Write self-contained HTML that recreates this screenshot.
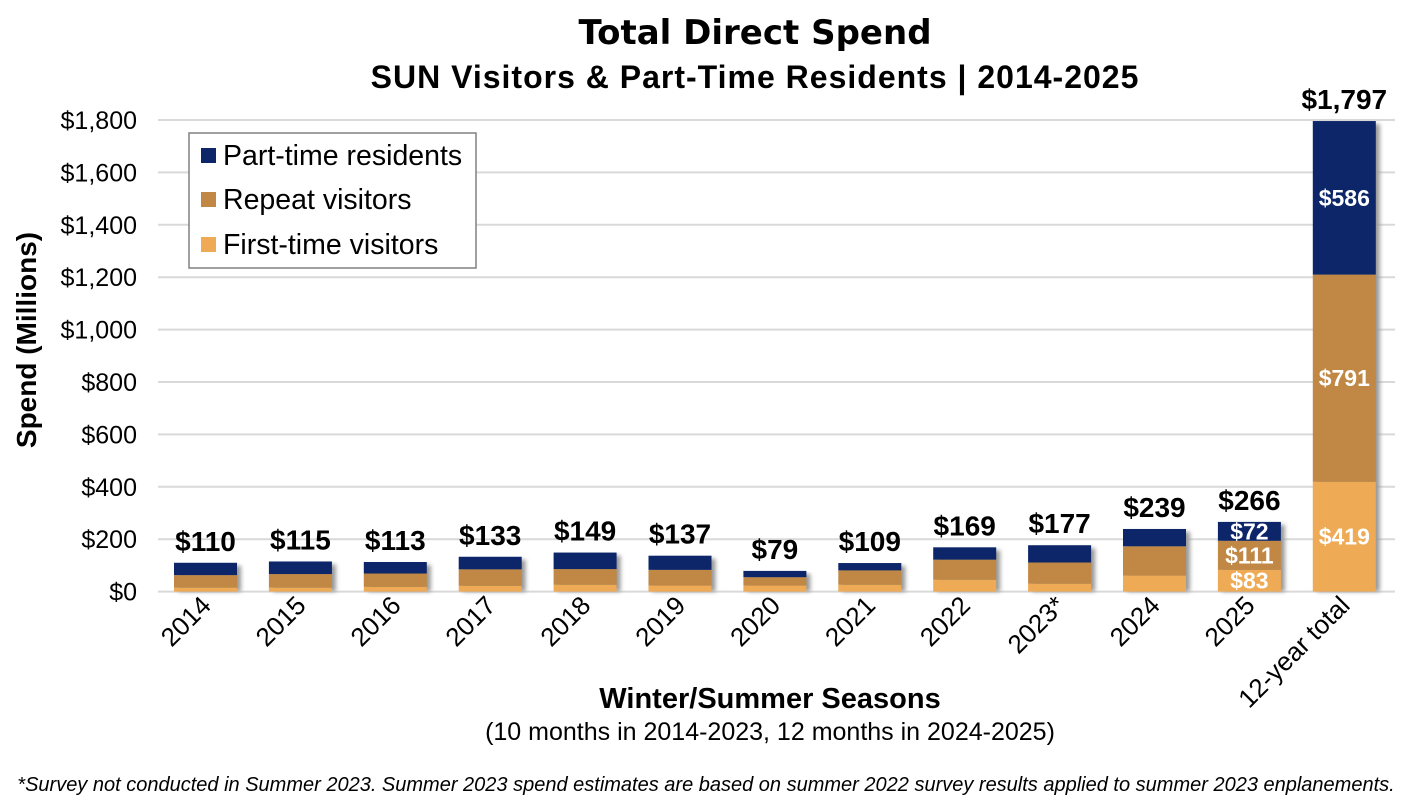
<!DOCTYPE html>
<html><head><meta charset="utf-8"><style>
html,body{margin:0;padding:0;background:#fff;}
svg{display:block;font-family:"Liberation Sans",Arial,sans-serif;}
</style></head><body>
<svg id="c" width="1420" height="805" xmlns="http://www.w3.org/2000/svg">
<defs><filter id="sh" x="-10%" y="-10%" width="130%" height="130%"><feGaussianBlur stdDeviation="2"/></filter></defs>
<text x="755" y="44" text-anchor="middle" font-size="34" style="font-family:'DejaVu Sans','Liberation Sans',sans-serif" font-weight="900">Total Direct Spend</text>
<text x="755" y="88" text-anchor="middle" font-size="32" font-weight="bold" letter-spacing="1">SUN Visitors &amp; Part-Time Residents | 2014-2025</text>
<g id="grid"></g>
<g id="bars"></g>
<text transform="translate(36,340) rotate(-90)" text-anchor="middle" font-size="28" font-weight="bold">Spend (Millions)</text>
<text x="770" y="708" text-anchor="middle" font-size="29" font-weight="bold">Winter/Summer Seasons</text>
<text x="770" y="740" text-anchor="middle" font-size="25">(10 months in 2014-2023, 12 months in 2024-2025)</text>
<text x="706" y="791" text-anchor="middle" font-size="20" font-style="italic">*Survey not conducted in Summer 2023. Summer 2023 spend estimates are based on summer 2022 survey results applied to summer 2023 enplanements.</text>
<rect x="189" y="133" width="287" height="135" fill="#fff" stroke="#808080" stroke-width="1.5"/>
<rect x="201" y="148" width="15" height="15" fill="#0c2669"/>
<text x="223" y="165" font-size="28.5">Part-time residents</text>
<rect x="201" y="192" width="15" height="15" fill="#c08844"/>
<text x="223" y="209" font-size="28.5">Repeat visitors</text>
<rect x="201" y="237" width="15" height="15" fill="#eeaa55"/>
<text x="223" y="254" font-size="28.5">First-time visitors</text>
</svg>
<script>
const ns="http://www.w3.org/2000/svg";
function el(p,t,a,txt){const e=document.createElementNS(ns,t);for(const k in a)e.setAttribute(k,a[k]);if(txt!=null)e.textContent=txt;p.appendChild(e);return e;}
const y0=591.6,k=(591.6-120)/1800;
const g=document.getElementById('grid'),b=document.getElementById('bars');
for(let i=0;i<=9;i++){const v=i*200,y=y0-v*k;
 el(g,'line',{x1:158,x2:1395,y1:y,y2:y,stroke:'#d9d9d9','stroke-width':2});
 el(g,'text',{x:137,y:y+9,'text-anchor':'end','font-size':25},'$'+v.toLocaleString('en-US'));}
const d=[["2014",15,48,47,110],["2015",15,52,48,115],["2016",18,51,44,113],["2017",22,63,48,133],["2018",26,60,63,149],["2019",23,60,54,137],["2020",23,32,24,79],["2021",26,55,28,109],["2022",45,77,47,169],["2023*",30,81,66,177],["2024",61,112,66,239],["2025",83,111,72,266],["12-year total",419,791,586,1797]];
const cols=["#eeaa55","#c08844","#0c2669"];
d.forEach((r,i)=>{const cx=205.5+i*94.9,w=63,x=cx-w/2;let y=y0;
 const tot=r[1]+r[2]+r[3];
 el(b,'rect',{x:x+4,y:y0-tot*k+3,width:w,height:tot*k-3,fill:'#999',filter:'url(#sh)'});
 for(let s=0;s<3;s++){const h=r[s+1]*k;el(b,'rect',{x:x,y:y-h,width:w,height:h,fill:cols[s]});
  if(i>=11){el(b,'text',{x:cx,y:y-h/2+8,'text-anchor':'middle','font-size':23,'font-weight':'bold',fill:'#fff'},'$'+r[s+1]);}
  y-=h;}
 el(b,'text',{x:cx,y:y-12,'text-anchor':'middle','font-size':28,'font-weight':'bold'},'$'+r[4].toLocaleString('en-US'));
 el(b,'text',{transform:`translate(${cx+7},607) rotate(-45)`,'text-anchor':'end','font-size':26},r[0]);
});
</script>
</body></html>
